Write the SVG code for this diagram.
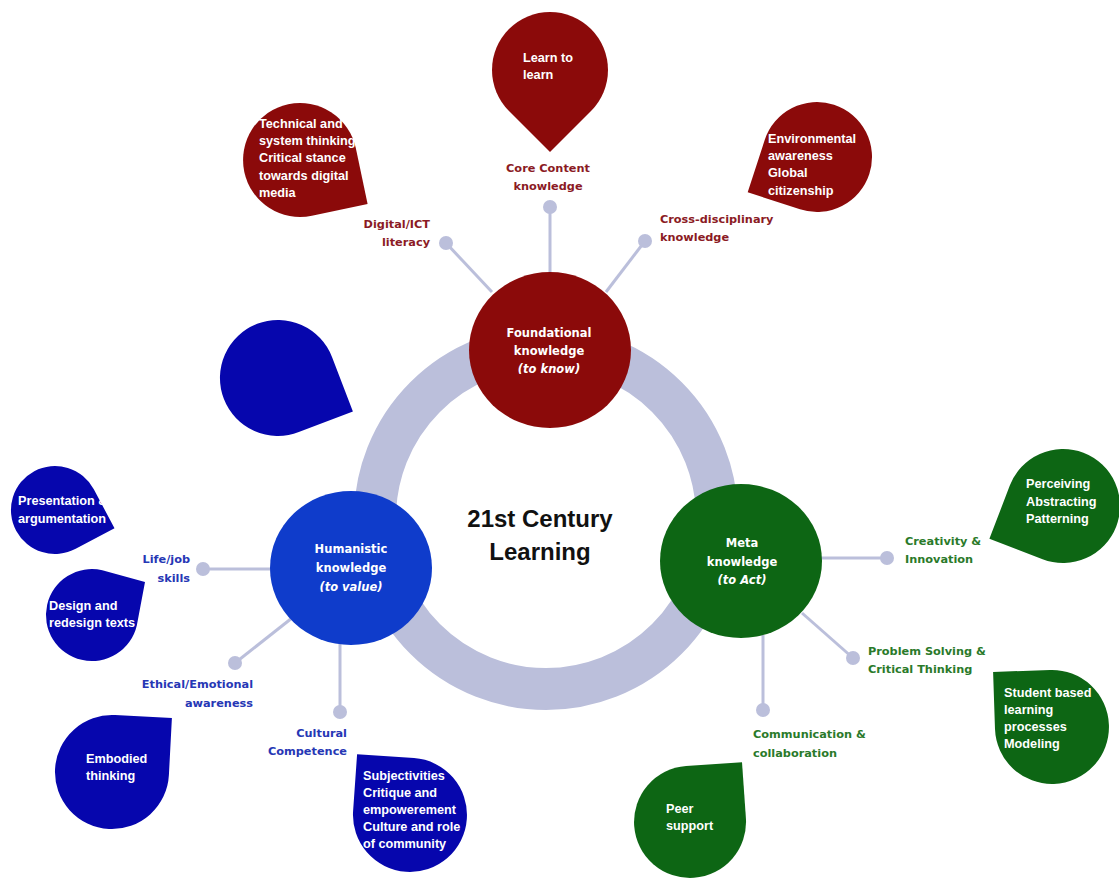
<svg xmlns="http://www.w3.org/2000/svg" width="1119" height="881" viewBox="0 0 1119 881">
<style>
.ring{fill:none;stroke:#bbbfdb;stroke-width:42}
.conn line{stroke:#bbbfdb;stroke-width:3}
.conn circle{fill:#bbbfdb}
.red{fill:#8b0a0a}
.blue{fill:#0606ad}
.bluec{fill:#0f3ccb}
.green{fill:#0d6614}
.ct{font-family:"DejaVu Sans",Verdana,sans-serif;font-weight:bold;font-size:11.5px;fill:#fff;text-anchor:middle}
.it{font-style:italic}
.lbl{font-family:"DejaVu Sans",Verdana,sans-serif;font-weight:bold;font-size:11.3px}
.lr{fill:#8b1a24}
.lb{fill:#2637b5}
.lg{fill:#2a7a2a}
.end{text-anchor:end}
.mid{text-anchor:middle}
.tt{font-family:"Liberation Sans",Arial,sans-serif;font-weight:bold;font-size:12.7px;fill:#fff}
.title{font-family:"Liberation Sans",Arial,sans-serif;font-weight:bold;font-size:24px;fill:#111;text-anchor:middle}
</style>
<rect width="1119" height="881" fill="#fff"/>
<circle class="ring" cx="546" cy="518" r="171"/>
<g id="connectors" class="conn">
<line x1="550" y1="275" x2="550" y2="207"/><circle cx="550" cy="207" r="7"/>
<line x1="492" y1="292" x2="446" y2="243"/><circle cx="446" cy="243" r="7"/>
<line x1="606" y1="292" x2="645" y2="241"/><circle cx="645" cy="241" r="7"/>
<line x1="272" y1="569" x2="203" y2="569"/><circle cx="203" cy="569" r="7"/>
<line x1="292" y1="618" x2="235" y2="663"/><circle cx="235" cy="663" r="7"/>
<line x1="340" y1="643" x2="340" y2="712"/><circle cx="340" cy="712" r="7"/>
<line x1="820" y1="558" x2="887" y2="558"/><circle cx="887" cy="558" r="7"/>
<line x1="802" y1="613" x2="853" y2="658"/><circle cx="853" cy="658" r="7"/>
<line x1="763" y1="635" x2="763" y2="710"/><circle cx="763" cy="710" r="7"/>
</g>
<g id="center"><text class="title" x="540" y="527">21st Century</text><text class="title" x="540" y="560">Learning</text></g>
<g id="foundational">
<ellipse class="red" cx="550" cy="350" rx="81" ry="78"/>
<text class="ct" x="549" y="337">Foundational</text><text class="ct" x="549" y="355">knowledge</text><text class="ct it" x="549" y="373">(to know)</text>
</g>
<g id="humanistic">
<ellipse class="bluec" cx="351" cy="568" rx="81" ry="77"/>
<text class="ct" x="351" y="553">Humanistic</text><text class="ct" x="351" y="572">knowledge</text><text class="ct it" x="351" y="591">(to value)</text>
</g>
<g id="meta">
<ellipse class="green" cx="741" cy="561" rx="81" ry="77"/>
<text class="ct" x="742" y="547">Meta</text><text class="ct" x="742" y="566">knowledge</text><text class="ct it" x="742" y="584">(to Act)</text>
</g>
<g id="lbl-core"><text class="lbl lr mid" x="548" y="172">Core Content</text><text class="lbl lr mid" x="548" y="190">knowledge</text></g>
<g id="lbl-digital"><text class="lbl lr end" x="430" y="228">Digital/ICT</text><text class="lbl lr end" x="430" y="246">literacy</text></g>
<g id="lbl-cross"><text class="lbl lr" x="660" y="223">Cross-disciplinary</text><text class="lbl lr" x="660" y="241">knowledge</text></g>
<g id="lbl-life"><text class="lbl lb end" x="190" y="563">Life/job</text><text class="lbl lb end" x="190" y="582">skills</text></g>
<g id="lbl-ethical"><text class="lbl lb end" x="253" y="688">Ethical/Emotional</text><text class="lbl lb end" x="253" y="707">awareness</text></g>
<g id="lbl-cultural"><text class="lbl lb end" x="347" y="737">Cultural</text><text class="lbl lb end" x="347" y="755">Competence</text></g>
<g id="lbl-creativity"><text class="lbl lg" x="905" y="545">Creativity &amp;</text><text class="lbl lg" x="905" y="563">Innovation</text></g>
<g id="lbl-problem"><text class="lbl lg" x="868" y="655">Problem Solving &amp;</text><text class="lbl lg" x="868" y="673">Critical Thinking</text></g>
<g id="lbl-comm"><text class="lbl lg" x="753" y="738">Communication &amp;</text><text class="lbl lg" x="753" y="757">collaboration</text></g>
<g id="drop-learn"><path class="red" d="M550,152 L591,111 A58,58 0 1 0 509,111 Z"/><text class="tt" x="523" y="62">Learn to</text><text class="tt" x="523" y="79">learn</text></g>
<g id="drop-technical"><path class="red" d="M367.6,203.9 L355.8,148.1 A57,57 0 1 0 311.9,215.8 Z"/>
<text class="tt" x="259" y="128">Technical and</text><text class="tt" x="259" y="145">system thinking</text><text class="tt" x="259" y="162">Critical stance</text><text class="tt" x="259" y="180">towards digital</text><text class="tt" x="259" y="197">media</text></g>
<g id="drop-environmental"><path class="red" d="M747.7,192.3 L800,209.3 A55,55 0 1 0 764.7,140 Z"/>
<text class="tt" x="768" y="143">Environmental</text><text class="tt" x="768" y="160">awareness</text><text class="tt" x="768" y="177">Global</text><text class="tt" x="768" y="195">citizenship</text></g>
<g id="drop-blank"><path class="blue" d="M352.9,411.4 L332.1,357.2 A58,58 0 1 0 298.8,432.1 Z"/></g>
<g id="drop-presentation"><path class="blue" d="M114.5,528.2 L93.8,489.3 A44,44 0 1 0 75.7,548.8 Z"/>
<text class="tt" x="18" y="505">Presentation &amp;</text><text class="tt" x="18" y="523">argumentation</text></g>
<g id="drop-design"><path class="blue" d="M145,582 L102.3,570.2 A46,46 0 1 0 136.8,625.4 Z"/>
<text class="tt" x="49" y="610">Design and</text><text class="tt" x="49" y="627">redesign texts</text></g>
<g id="drop-embodied"><path class="blue" d="M171.9,718.1 L115,715.1 A57,57 0 1 0 168.9,775 Z"/>
<text class="tt" x="86" y="763">Embodied</text><text class="tt" x="86" y="780">thinking</text></g>
<g id="drop-subjectivities"><path class="blue" d="M357.1,754.2 L353.1,811 A57,57 0 1 0 414,758.1 Z"/>
<text class="tt" x="363" y="780">Subjectivities</text><text class="tt" x="363" y="797">Critique and</text><text class="tt" x="363" y="814">empowerement</text><text class="tt" x="363" y="831">Culture and role</text><text class="tt" x="363" y="848">of community</text></g>
<g id="drop-perceiving"><path class="green" d="M989.4,538.8 L1042.6,559.2 A57,57 0 1 0 1009.8,485.6 Z"/>
<text class="tt" x="1026" y="488">Perceiving</text><text class="tt" x="1026" y="506">Abstracting</text><text class="tt" x="1026" y="523">Patterning</text></g>
<g id="drop-student"><path class="green" d="M993.1,672 L995,729 A57,57 0 1 0 1050,670 Z"/>
<text class="tt" x="1004" y="697">Student based</text><text class="tt" x="1004" y="714">learning</text><text class="tt" x="1004" y="731">processes</text><text class="tt" x="1004" y="748">Modeling</text></g>
<g id="drop-peer"><path class="green" d="M742,762.2 L686.1,766.1 A56,56 0 1 0 745.9,818.1 Z"/>
<text class="tt" x="666" y="813">Peer</text><text class="tt" x="666" y="830">support</text></g>
</svg>
